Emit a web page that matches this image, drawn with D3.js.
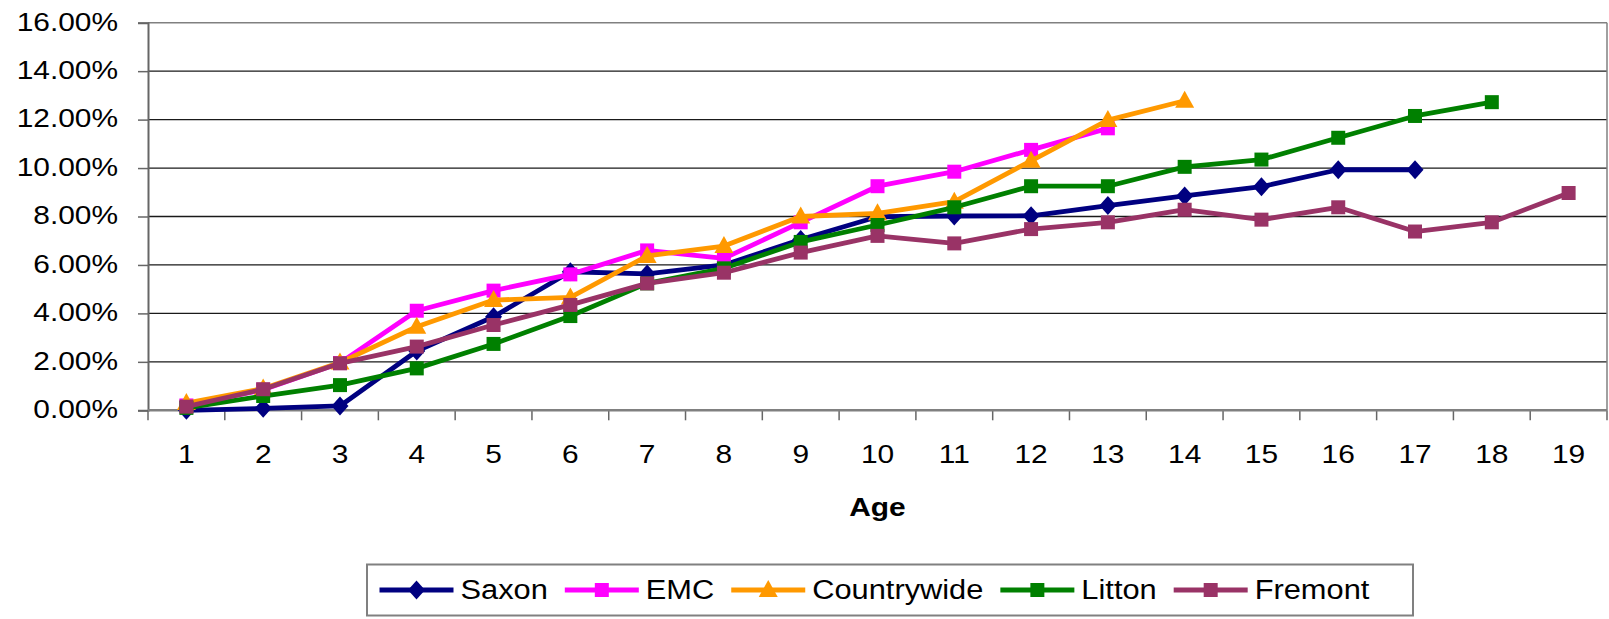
<!DOCTYPE html>
<html>
<head>
<meta charset="utf-8">
<script src="https://cdn.jsdelivr.net/npm/d3@7"></script>
<style>
  html, body { margin: 0; padding: 0; background: #fff; }
  svg { display: block; }
  text { font-family: "Liberation Sans", Arial, Helvetica, sans-serif; fill: #000; }
</style>
</head>
<body>
<svg id="chart" width="1609" height="619"></svg>
<script>
// ---- data ----
const categories = ["1","2","3","4","5","6","7","8","9","10","11","12","13","14","15","16","17","18","19"];
const yTicks = [0, 0.02, 0.04, 0.06, 0.08, 0.10, 0.12, 0.14, 0.16];
const seriesNames = ["Saxon", "EMC", "Countrywide", "Litton", "Fremont"];
const seriesColors = ["#000080", "#FF00FF", "#FF9900", "#008000", "#993366"];
const seriesMarkers = ["diamond", "square", "triangle", "square", "square"];
const saxon       = [0.0000, 0.0008, 0.0018, 0.0245, 0.0386, 0.0572, 0.0563, 0.0600, 0.0705, 0.0799, 0.0802, 0.0803, 0.0845, 0.0885, 0.0923, 0.0993, 0.0993, null, null];
const emc         = [0.0020, 0.0085, 0.0195, 0.0411, 0.0494, 0.0561, 0.0660, 0.0627, 0.0776, 0.0925, 0.0985, 0.1075, 0.1164, null, null, null, null, null, null];
const countrywide = [0.0030, 0.0090, 0.0197, 0.0345, 0.0455, 0.0466, 0.0637, 0.0678, 0.0800, 0.0813, 0.0861, 0.1030, 0.1198, 0.1278, null, null, null, null, null];
const litton      = [0.0010, 0.0059, 0.0104, 0.0173, 0.0274, 0.0389, 0.0524, 0.0586, 0.0695, 0.0765, 0.0838, 0.0925, 0.0925, 0.1005, 0.1035, 0.1125, 0.1215, 0.1272, null];
const fremont     = [0.0015, 0.0087, 0.0194, 0.0263, 0.0352, 0.0435, 0.0524, 0.0568, 0.0651, 0.0720, 0.0689, 0.0748, 0.0776, 0.0828, 0.0787, 0.0838, 0.0738, 0.0776, 0.0897];
const seriesValues = [saxon, emc, countrywide, litton, fremont];
const xTitle = "Age";

// ---- layout ----
const svg = d3.select("#chart");
const plot = { left: 148, right: 1607, top: 22.7, bottom: 410.3 };
const SX = 1.15; // horizontal stretch of text in the reference

const x = d3.scaleBand().domain(categories).range([plot.left, plot.right]).padding(0);
const y = d3.scaleLinear().domain([0, 0.16]).range([plot.bottom, plot.top]);
const cx = c => x(c) + x.bandwidth() / 2;

// gridlines
svg.append("g")
  .selectAll("line")
  .data(yTicks.filter(d => d > 0 && d < 0.16))
  .join("line")
  .attr("x1", plot.left).attr("x2", plot.right)
  .attr("y1", d => y(d)).attr("y2", d => y(d))
  .attr("stroke", "#1a1a1a").attr("stroke-width", 1.3);

// plot border top & right
svg.append("line").attr("x1", plot.left).attr("x2", plot.right)
  .attr("y1", y(0.16)).attr("y2", y(0.16)).attr("stroke", "#808080").attr("stroke-width", 1.5);
svg.append("line").attr("x1", plot.right).attr("x2", plot.right)
  .attr("y1", plot.top).attr("y2", plot.bottom).attr("stroke", "#808080").attr("stroke-width", 1.5);

// y axis
const yAxis = svg.append("g")
  .attr("transform", `translate(${plot.left},0)`)
  .call(d3.axisLeft(y).tickValues(yTicks).tickFormat(d3.format(".2%")).tickSize(10).tickPadding(30));
yAxis.select(".domain").attr("stroke", "#666").attr("stroke-width", 2);
yAxis.selectAll(".tick line").attr("stroke", "#666").attr("stroke-width", 1.5);
yAxis.selectAll(".tick text")
  .attr("font-size", 26)
  .attr("font-family", null)
  .attr("x", -30 / SX)
  .attr("dy", "0.36em")
  .attr("transform", `translate(0,-2) scale(${SX},1)`)
  .attr("fill", "#000");

// x axis (labels at band centres, ticks on band boundaries)
const xAxis = svg.append("g")
  .attr("transform", `translate(0,${plot.bottom})`)
  .call(d3.axisBottom(x).tickSize(0).tickPadding(34));
xAxis.select(".domain").remove();
xAxis.selectAll(".tick text")
  .attr("font-size", 26)
  .attr("font-family", null)
  .attr("x", 0)
  .attr("dy", "0.72em")
  .attr("transform", `scale(${SX},1)`)
  .attr("fill", "#000");
svg.append("g").selectAll("line")
  .data(categories.map(c => x(c)).concat([plot.right]))
  .join("line")
  .attr("x1", d => d).attr("x2", d => d)
  .attr("y1", plot.bottom).attr("y2", plot.bottom + 10)
  .attr("stroke", "#666").attr("stroke-width", 1.5);
svg.append("line").attr("x1", plot.left).attr("x2", plot.right)
  .attr("y1", plot.bottom).attr("y2", plot.bottom)
  .attr("stroke", "#808080").attr("stroke-width", 2.5);

// x title
svg.append("text")
  .attr("transform", `translate(${(plot.left + plot.right) / 2},${plot.bottom + 106}) scale(${SX},1)`)
  .attr("text-anchor", "middle")
  .attr("font-size", 26).attr("font-weight", "bold")
  .text(xTitle);

// markers
function markerPath(type) {
  if (type === "diamond") return "M0,-9.5L8.5,0L0,9.5L-8.5,0Z";
  if (type === "triangle") return "M0,-10L9.5,7L-9.5,7Z";
  return "M-7,-7H7V7H-7Z";
}

// series
const line = d3.line()
  .defined(d => d.v != null)
  .x(d => cx(d.c))
  .y(d => y(d.v));

seriesNames.forEach((name, i) => {
  const data = categories.map((c, j) => ({ c, v: seriesValues[i][j] }));
  const g = svg.append("g");
  g.append("path").datum(data)
    .attr("d", line)
    .attr("fill", "none")
    .attr("stroke", seriesColors[i])
    .attr("stroke-width", 4.8)
    .attr("stroke-linejoin", "round");
  g.selectAll("path.m").data(data.filter(d => d.v != null))
    .join("path").attr("class", "m")
    .attr("d", markerPath(seriesMarkers[i]))
    .attr("transform", d => `translate(${cx(d.c)},${y(d.v)})`)
    .attr("fill", seriesColors[i]);
});

// legend
const legend = svg.append("g");
legend.append("rect")
  .attr("x", 367).attr("y", 564.5).attr("width", 1046).attr("height", 51)
  .attr("fill", "#fff").attr("stroke", "#808080").attr("stroke-width", 2);
let lx = 379.5;
const ly = 590;
const LSX = 1.1;
seriesNames.forEach((name, i) => {
  legend.append("line")
    .attr("x1", lx).attr("x2", lx + 74).attr("y1", ly).attr("y2", ly)
    .attr("stroke", seriesColors[i]).attr("stroke-width", 4.8);
  legend.append("path")
    .attr("d", markerPath(seriesMarkers[i]))
    .attr("transform", `translate(${lx + 37},${ly})`)
    .attr("fill", seriesColors[i]);
  const t = legend.append("text")
    .attr("transform", `translate(${lx + 81},${ly + 9}) scale(${LSX},1)`)
    .attr("font-size", 28)
    .text(name);
  const w = t.node().getComputedTextLength() * LSX;
  lx += 81 + w + 17;
});
</script>
</body>
</html>
